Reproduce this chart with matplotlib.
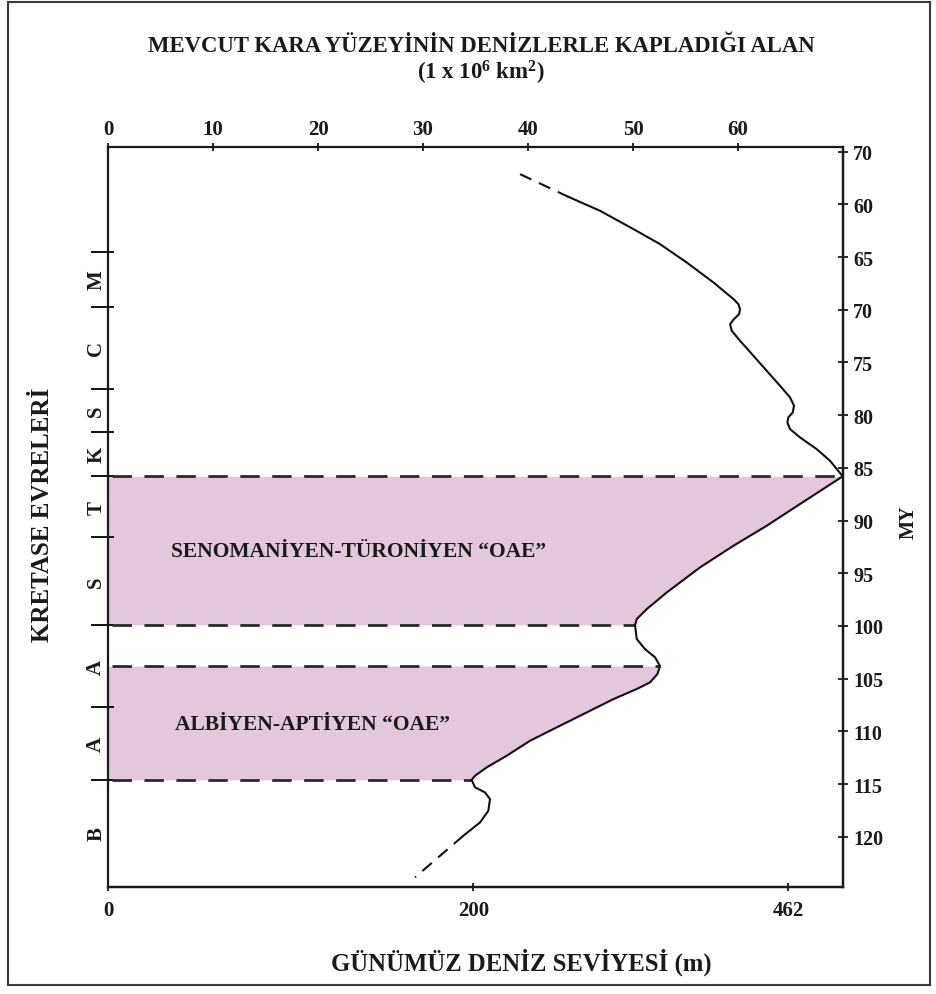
import numpy as np
import matplotlib.pyplot as plt
from matplotlib import transforms
from matplotlib.patches import Rectangle

plt.rcParams['font.family'] = 'Liberation Serif'
plt.rcParams['font.weight'] = 'bold'
plt.rcParams['mathtext.fontset'] = 'custom'
plt.rcParams['mathtext.rm'] = 'Liberation Serif:bold'
plt.rcParams['mathtext.it'] = 'Liberation Serif:bold'
plt.rcParams['mathtext.bf'] = 'Liberation Serif:bold'

# deniz basmasi egrisi: kaplanan alan (1e6 km2) ve yas (MY)
area = [43.84, 46.86, 50.03, 52.57, 55.11, 57.65, 59.56, 60.03, 60.19, 60.10,
        59.56, 59.24, 59.40, 60.19, 61.46, 62.73, 64.00, 64.95, 65.33, 65.21,
        64.79, 64.70, 64.95, 65.90, 67.49, 68.76, 69.97, 65.90, 62.73, 59.56,
        56.38, 53.21, 51.30, 50.35, 50.19, 50.35, 51.14, 52.10, 52.57, 52.32,
        51.62, 50.35, 48.13, 44.95, 42.41, 40.19, 37.97, 36.06, 34.95, 34.63,
        34.95, 35.90, 36.38, 36.22, 35.43, 33.84]
age = [59.28, 60.61, 62.34, 63.77, 65.51, 67.40, 68.98, 69.46, 69.93, 70.41,
       70.94, 71.36, 71.99, 72.94, 74.36, 75.79, 77.21, 78.31, 79.11, 79.74,
       80.21, 80.69, 81.32, 82.11, 83.22, 84.33, 85.80, 88.43, 90.49, 92.39,
       94.44, 96.82, 98.40, 99.35, 99.90, 101.24, 102.19, 102.98, 103.80, 104.56,
       105.35, 105.98, 106.94, 108.52, 109.78, 110.89, 112.31, 113.42, 114.21, 114.60,
       115.31, 115.79, 116.43, 117.53, 118.64, 119.90]

# belirsiz uclar (kesikli)
area_top_dash = [39.24, 43.84]
age_top_dash = [57.13, 59.28]
area_bottom_dash = [33.84, 29.24]
age_bottom_dash = [119.90, 123.85]

# kretase evreleri
stage_bounds = [64.5, 69.7, 77.5, 81.6, 85.8, 91.6, 99.9, 107.7, 114.6, 124.77]
stage_letters = ['M', 'C', 'S', 'K', 'T', 'S', 'A', 'A', 'B']

# OAE araliklari
oae_names = ['SENOMANİYEN-TÜRONİYEN “OAE”', 'ALBİYEN-APTİYEN “OAE”']
oae_top = [85.8, 103.8]
oae_bottom = [99.9, 114.6]
oae_label_x = [23.9, 19.5]
oae_label_y = [92.9, 109.3]

# eksen etiketleri
area_ticks = [0, 10, 20, 30, 40, 50, 60]
my_ticks = [55, 60, 65, 70, 75, 80, 85, 90, 95, 100, 105, 110, 115, 120]
my_labels = ['70', '60', '65', '70', '75', '80', '85', '90', '95', '100',
             '105', '110', '115', '120']
sea_level_pos = [0, 34.8, 64.76]
sea_level_labels = ['0', '200', '462']

area = np.array(area)
age = np.array(age)

fig = plt.figure(figsize=(9.36, 9.95), dpi=100)
ax = fig.add_axes([0.1154, 0.1075, 0.7853, 0.7437])
ax.set_xlim(0, 70)
ax.set_ylim(124.77, 54.56)

fill_col = '#e2c7dd'
for top, bot in zip(oae_top, oae_bottom):
    m = (age >= top) & (age <= bot)
    ax.fill_betweenx(age[m], 0, area[m], color=fill_col, lw=0, zorder=1)

for lev in oae_top + oae_bottom:
    x_end = np.interp(lev, age, area)
    ax.plot([0.4, x_end], [lev, lev], color='#2a2a2a', lw=2,
            linestyle=(0, (7, 4.5)), zorder=2)

ax.plot(area, age, color='#111111', lw=1.5, solid_joinstyle='round', zorder=3)
ax.plot(area_top_dash, age_top_dash, color='#111111', lw=1.5,
        linestyle=(0, (6, 4)), zorder=3)
ax.plot(area_bottom_dash, age_bottom_dash, color='#111111', lw=1.5,
        linestyle=(0, (6, 4)), zorder=3)

for name, x, y in zip(oae_names, oae_label_x, oae_label_y):
    ax.text(x, y, name, ha='center', va='center', fontsize=15.5, color='#1a1a1a')

for s in ax.spines.values():
    s.set_linewidth(1.6)
    s.set_color('#1a1a1a')

# ust eksen: alan
ax.xaxis.tick_top()
ax.set_xticks(area_ticks)
ax.tick_params(axis='x', direction='inout', length=6, width=1.3, pad=3,
               labelsize=15, colors='#1a1a1a')

# sol eksen: evre sinirlari
ax.set_yticks(stage_bounds[:-1])
ax.set_yticks(stage_bounds[:-1], minor=True)
ax.yaxis.remove_overlapping_locs = False
ax.tick_params(axis='y', which='major', direction='out', length=12, width=1.3,
               labelleft=False)
ax.tick_params(axis='y', which='minor', direction='in', length=4.5, width=1.3,
               labelleft=False)

trans = transforms.blended_transform_factory(ax.transAxes, ax.transData)
for i, letter in enumerate(stage_letters):
    mid = (stage_bounds[i] + stage_bounds[i + 1]) / 2
    ax.text(-0.016, mid, letter, transform=trans, rotation=90, ha='center',
            va='center', fontsize=15, color='#1a1a1a')

# sag eksen: yas
ax_r = ax.secondary_yaxis('right')
ax_r.set_yticks(my_ticks, labels=my_labels)
ax_r.tick_params(direction='inout', length=6.5, width=1.3, pad=4,
                 labelsize=14.5, colors='#1a1a1a')
ax_r.spines['right'].set_linewidth(1.6)

# alt eksen: deniz seviyesi
ax_b = ax.secondary_xaxis('bottom')
ax_b.set_xticks(sea_level_pos, labels=sea_level_labels)
ax_b.tick_params(direction='inout', length=6, width=1.3, pad=6.5,
                 labelsize=15, colors='#1a1a1a')
ax_b.spines['bottom'].set_linewidth(1.6)

fig.text(481 / 936, 1 - 46 / 995, 'MEVCUT KARA YÜZEYİNİN DENİZLERLE KAPLADIĞI ALAN',
         ha='center', va='center', fontsize=16.4, color='#1a1a1a')
fig.text(481 / 936, 1 - 73 / 995, r'(1 x 10$^{6}$ km$^{2}$)',
         ha='center', va='center', fontsize=16.4, color='#1a1a1a')
fig.text(521 / 936, 1 - 962 / 995, 'GÜNÜMÜZ DENİZ SEVİYESİ (m)',
         ha='center', va='center', fontsize=17.8, color='#1a1a1a')
fig.text(43 / 936, 1 - 515 / 995, 'KRETASE EVRELERİ', rotation=90,
         ha='center', va='center', fontsize=18, color='#1a1a1a')
fig.text(909 / 936, 1 - 522 / 995, 'MY', rotation=90,
         ha='center', va='center', fontsize=14.5, color='#1a1a1a')

fig.patches.append(Rectangle((8 / 936, 1 - 986 / 995), 922 / 936, 983 / 995,
                             transform=fig.transFigure, fill=False,
                             lw=1.5, edgecolor='#3a3a3a'))

fig.savefig('out.png', dpi=100)
